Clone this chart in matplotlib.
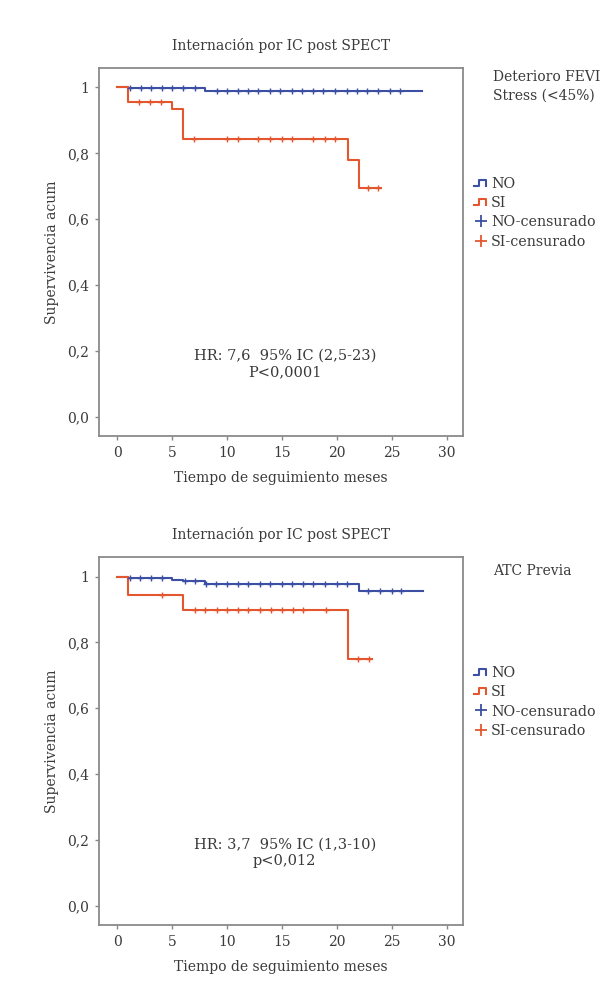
import numpy as np
import matplotlib
matplotlib.use("Agg")
import matplotlib.pyplot as plt
from matplotlib.lines import Line2D
from matplotlib.legend_handler import HandlerBase

plt.rcParams['font.family'] = ['DejaVu Serif']
plt.rcParams['text.color'] = '#3a3a3a'
plt.rcParams['axes.labelcolor'] = '#3a3a3a'
plt.rcParams['xtick.color'] = '#888888'
plt.rcParams['ytick.color'] = '#888888'
plt.rcParams['xtick.labelcolor'] = '#3a3a3a'
plt.rcParams['ytick.labelcolor'] = '#3a3a3a'

# Panel 1: Deterioro FEVI Stress (<45%)
no1_t = [0, 1, 8, 27.7]
no1_s = [1.0, 0.997, 0.99, 0.99]
no1_cens = [1.2, 2.2, 3.1, 4.1, 5, 6, 7.1, 9.1, 10, 11, 11.9, 12.8, 13.9, 14.8,
            15.9, 16.8, 17.8, 18.7, 19.8, 20.9, 21.8, 22.7, 23.7, 24.8, 25.7]
si1_t = [0, 1, 5, 6, 21, 22, 24]
si1_s = [1.0, 0.957, 0.935, 0.843, 0.78, 0.695, 0.695]
si1_cens = [2, 3, 4, 7, 10, 11, 12.8, 13.9, 15, 15.9, 17.8, 18.9, 19.8, 22.8, 23.7]

# Panel 2: ATC Previa
no2_t = [0, 1, 5, 6, 8, 22, 27.8]
no2_s = [1.0, 0.995, 0.99, 0.985, 0.978, 0.957, 0.957]
no2_cens = [1.2, 2.1, 3.1, 4.1, 6.2, 7.1, 8.1, 9, 10, 11, 11.9, 13, 13.9, 15,
            15.9, 16.9, 17.8, 18.9, 20, 20.9, 22.8, 23.9, 25, 25.8]
si2_t = [0, 1, 6, 21, 23.2]
si2_s = [1.0, 0.945, 0.897, 0.75, 0.75]
si2_cens = [4.1, 7.1, 8, 9.1, 10, 11, 11.9, 13, 14, 15, 16, 16.9, 19, 21.9, 22.9]

titulo = "Internación por IC post SPECT"
grupos = ["Deterioro FEVI\nStress (<45%)", "ATC Previa"]
stats = ["HR: 7,6  95% IC (2,5-23)\nP<0,0001", "HR: 3,7  95% IC (1,3-10)\np<0,012"]
yticks = [0, 0.2, 0.4, 0.6, 0.8, 1.0]
ytick_labels = ["0,0", "0,2", "0,4", "0,6", "0,8", "1"]
xticks = [0, 5, 10, 15, 20, 25, 30]

azul = '#3d4fa3'
rojo = '#e4572e'


class StepHandler(HandlerBase):
    def create_artists(self, legend, orig_handle, xdescent, ydescent,
                       width, height, fontsize, trans):
        xs = np.array([0.0, 0.35, 0.35, 0.85, 0.85]) * width - xdescent
        ys = np.array([0.2, 0.2, 0.8, 0.8, 0.2]) * height - ydescent
        ln = Line2D(xs, ys, color=orig_handle.get_color(), lw=1.5, transform=trans)
        return [ln]


class StepIcon(Line2D):
    pass


def surv_at(t, st, ss):
    idx = np.searchsorted(st, t, side='right') - 1
    return np.array(ss)[idx]


fig = plt.figure(figsize=(6.15, 9.81), dpi=100)
paneles = [
    (no1_t, no1_s, no1_cens, si1_t, si1_s, si1_cens, grupos[0], stats[0], 0.5556, 0.0),
    (no2_t, no2_s, no2_cens, si2_t, si2_s, si2_cens, grupos[1], stats[1], 0.0571, 0.014),
]

for (nt, ns, nc, st, ss, sc, grupo, stat, y0, dy) in paneles:
    ax = fig.add_axes([0.161, y0, 0.592, 0.375])
    ax.step(nt, ns, where='post', color=azul, lw=1.5)
    ax.step(st, ss, where='post', color=rojo, lw=1.5)
    ax.plot(nc, surv_at(nc, nt, ns), '+', color=azul, ms=5, mew=1.0)
    ax.plot(sc, surv_at(sc, st, ss), '+', color=rojo, ms=5, mew=1.0)

    ax.set_xlim(-1.64, 31.45)
    ax.set_ylim(-0.059, 1.059)
    ax.set_xticks(xticks)
    ax.set_yticks(yticks)
    ax.set_yticklabels(ytick_labels)
    ax.tick_params(length=3, width=1, labelsize=10, pad=4)
    for sp in ax.spines.values():
        sp.set_color('#8a8a8a')
        sp.set_linewidth(1.3)

    ax.set_title(titulo, fontsize=10, pad=13)
    ax.set_xlabel("Tiempo de seguimiento meses", fontsize=10, labelpad=8)
    ax.set_ylabel("Supervivencia acum", fontsize=10, labelpad=6)
    ax.text(0.51, 0.195, stat, transform=ax.transAxes, ha='center', va='center',
            fontsize=10.5, linespacing=1.2)
    ax.text(1.082, 0.995 - dy, grupo, transform=ax.transAxes, ha='left', va='top',
            fontsize=10, linespacing=1.4)

    handles = [StepIcon([], [], color=azul), StepIcon([], [], color=rojo),
               Line2D([], [], ls='none', marker='+', color=azul, ms=8, mew=1.3),
               Line2D([], [], ls='none', marker='+', color=rojo, ms=8, mew=1.3)]
    labels = ["NO", "SI", "NO-censurado", "SI-censurado"]
    ax.legend(handles, labels, loc='upper left', bbox_to_anchor=(1.03, 0.705),
              frameon=False, borderaxespad=0, borderpad=0, fontsize=10.3,
              handlelength=1.0, handletextpad=0.2, labelspacing=0.38,
              handler_map={StepIcon: StepHandler()})

fig.savefig("out.png", dpi=100, facecolor='white')
